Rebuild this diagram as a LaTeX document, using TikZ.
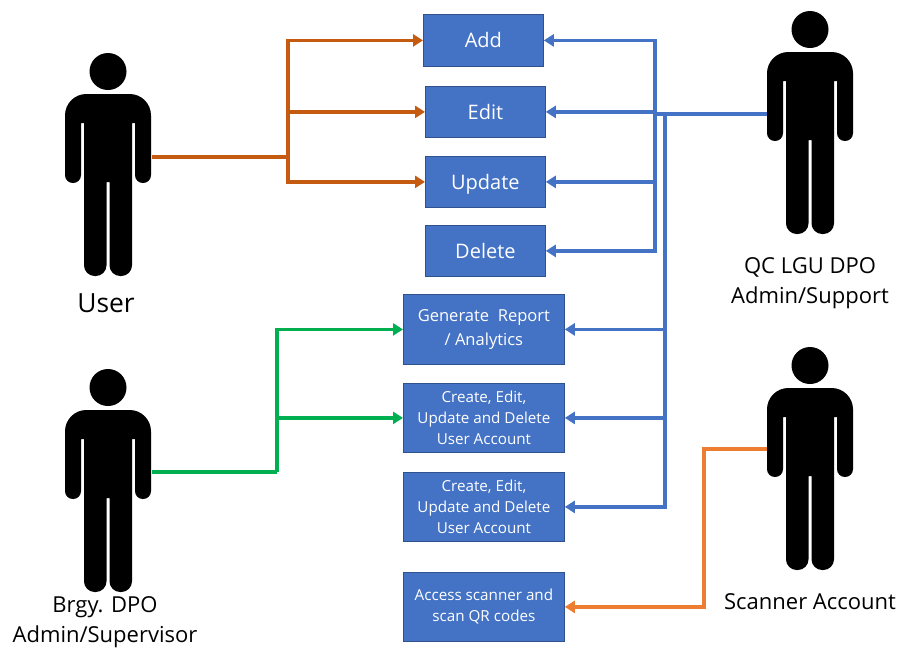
\documentclass[tikz,border=0pt]{standalone}
\usepackage{fontspec}
\setmainfont{Open Sans}
\usetikzlibrary{arrows.meta}
\definecolor{boxfill}{HTML}{4472C4}
\definecolor{boxline}{HTML}{2F528F}
\definecolor{burnt}{HTML}{C55A11}
\definecolor{tang}{HTML}{ED7D31}
\definecolor{leaf}{HTML}{00B050}
\tikzset{
  x=0.75pt,y=-0.75pt,
  action/.style={draw=boxline,line width=0.6pt,fill=boxfill,text=white,inner sep=0pt,align=center,anchor=north west},
  big/.style={font=\fontsize{15}{17}\selectfont,text height=11pt,text depth=0pt},
  mid/.style={font=\fontsize{12.4}{18.4}\selectfont},
  small/.style={font=\fontsize{11.4}{15.8}\selectfont},
  actor/.style={font=\fontsize{16.5}{22.5}\selectfont,text=black,align=center,inner sep=0pt},
  wire/.style={line width=2.8pt,-{Triangle[length=7.5pt,width=9pt]}},
  plain/.style={line width=2.8pt},
  pics/person/.style={code={
    \fill (0,18.5) circle [radius=18.5];
    \fill[rounded corners=16pt] (0,41) -- (43,41) [rounded corners=5.9pt] -- (43,130) -- (27,130)
      [sharp corners] -- (27,70) -- (24,70) [rounded corners=8pt] -- (24,223) -- (1.5,223)
      [sharp corners] -- (1.5,129) -- (-1.5,129) [rounded corners=8pt] -- (-1.5,223) -- (-24,223)
      [sharp corners] -- (-24,70) -- (-27,70) [rounded corners=5.9pt] -- (-27,130) -- (-43,130)
      [rounded corners=16pt] -- (-43,41) -- cycle;
  }}
}
\newcommand{\actionbox}[7]{\node[action,#2,minimum width=#5*0.75pt,minimum height=#6*0.75pt] (#1) at (#3,#4) {#7};}
\begin{document}
\begin{tikzpicture}
\useasboundingbox (0,0) rectangle (899,651);
\pic at (108,53) {person};
\pic at (108,369) {person};
\pic at (810,11) {person};
\pic at (810,347) {person};
\node[actor,font=\fontsize{19.8}{22}\selectfont] (userlabel) at (106,303) {User};
\node[actor] (brgylabel) at (105,622) {Brgy. DPO\\Admin/Supervisor};
\node[actor] (qclabel) at (810,283) {QC LGU DPO\\Admin/Support};
\node[actor] (scanlabel) at (810,602) {Scanner Account};
\actionbox{add}{big}{423}{14}{120}{52}{Add}
\actionbox{edit}{big}{425}{86}{120}{51}{Edit}
\actionbox{update}{big}{425}{156}{120}{51}{Update}
\actionbox{delete}{big}{425}{225}{120}{51}{Delete}
\actionbox{report}{mid}{403}{294}{161}{70}{Generate~ Report\\/ Analytics}
\actionbox{crudA}{small}{403}{383}{161}{69}{Create, Edit,\\Update and Delete\\User Account}
\actionbox{crudB}{small}{403}{472}{161}{69}{Create, Edit,\\Update and Delete\\User Account}
\actionbox{scan}{small}{403}{572}{161}{69}{Access scanner and\\scan QR codes}
\coordinate (userport) at (152,157);
\coordinate (userbus) at (288,157);
\draw[plain,burnt] (userport) -- (userbus);
\draw[wire,burnt] (userbus) |- (add.west);
\draw[wire,burnt] (userbus) |- (edit.west);
\draw[wire,burnt] (userbus) |- (update.west);
\coordinate (brgyport) at (152,472);
\coordinate (brgybus) at (277,472);
\draw[plain,leaf] (brgyport) -- (brgybus);
\draw[wire,leaf] (brgybus) |- (report.west);
\draw[wire,leaf] (brgybus) |- (crudA.west);
\coordinate (qcport) at (767,114);
\coordinate (qcbusB) at (665,114);
\coordinate (qcbusA) at (655,114);
\draw[plain,boxfill] (qcport) -- (qcbusA);
\draw[wire,boxfill] (qcbusA) |- (add.east);
\draw[wire,boxfill] (qcbusA) |- (edit.east);
\draw[wire,boxfill] (qcbusA) |- (update.east);
\draw[wire,boxfill] (qcbusA) |- (delete.east);
\draw[wire,boxfill] (qcbusB) |- (report.east);
\draw[wire,boxfill] (qcbusB) |- (crudA.east);
\draw[wire,boxfill] (qcbusB) |- (crudB.east);
\coordinate (scanport) at (767,449);
\coordinate (scanbus) at (704,449);
\draw[wire,tang] (scanport) -- (scanbus) |- (scan.east);
\end{tikzpicture}
\end{document}
